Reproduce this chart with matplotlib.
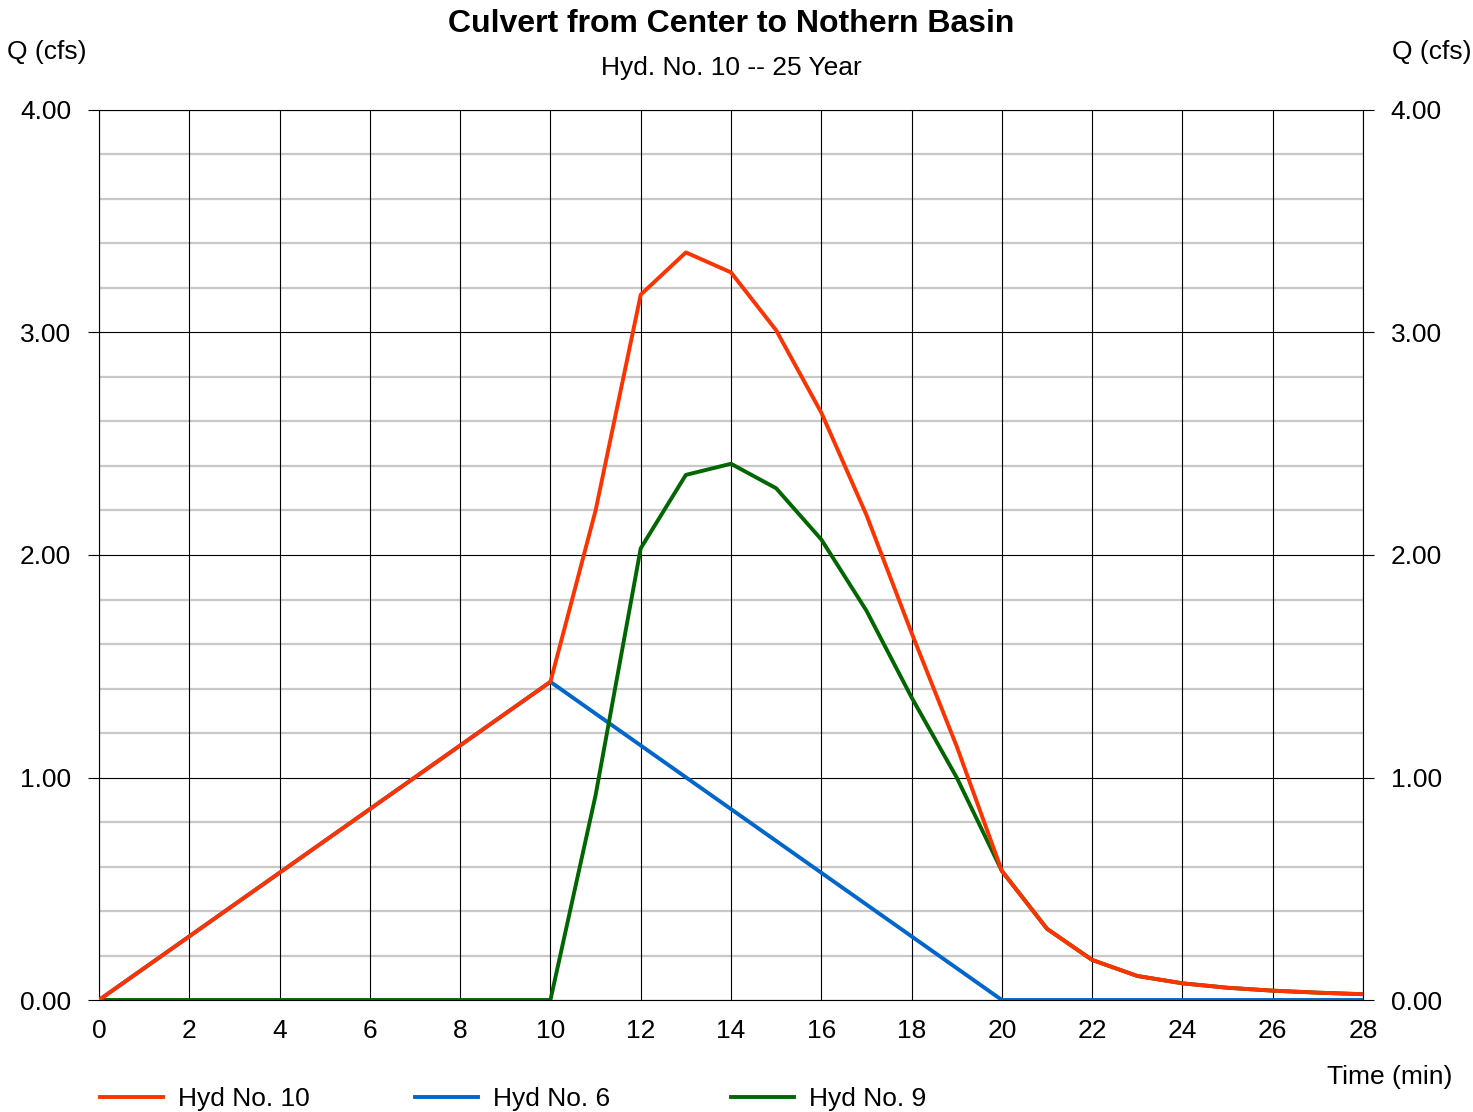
import matplotlib
matplotlib.use("Agg")
import matplotlib.pyplot as plt
from matplotlib.lines import Line2D
import numpy as np

plt.rcParams['font.family'] = ['Liberation Sans', 'DejaVu Sans']

# Time (min)
time = list(range(0, 29))

# Hydrograph ordinates (cfs)
hyd6 = [0.000, 0.143, 0.286, 0.429, 0.572, 0.715, 0.858, 1.001, 1.144, 1.287, 1.430,
        1.287, 1.144, 1.001, 0.858, 0.715, 0.572, 0.429, 0.286, 0.143, 0.000,
        0.00, 0.00, 0.00, 0.00, 0.00, 0.00, 0.00, 0.00]
hyd9 = [0.00, 0.00, 0.00, 0.00, 0.00, 0.00, 0.00, 0.00, 0.00, 0.00, 0.00,
        0.92, 2.03, 2.36, 2.41, 2.30, 2.07, 1.75, 1.36, 1.00, 0.58,
        0.32, 0.18, 0.108, 0.075, 0.055, 0.042, 0.033, 0.026]
hyd10 = [0.000, 0.143, 0.286, 0.429, 0.572, 0.715, 0.858, 1.001, 1.144, 1.287, 1.430,
         2.20, 3.17, 3.36, 3.27, 3.01, 2.64, 2.18, 1.65, 1.14, 0.58,
         0.32, 0.18, 0.108, 0.075, 0.055, 0.042, 0.033, 0.026]

series = [("Hyd No. 10", hyd10, "#FF3300"),
          ("Hyd No. 6", hyd6, "#0066CC"),
          ("Hyd No. 9", hyd9, "#006600")]

x_ticks = list(range(0, 29, 2))
y_major = [0.0, 1.0, 2.0, 3.0, 4.0]
y_labels = ["0.00", "1.00", "2.00", "3.00", "4.00"]

FS = 19

W, H = 1473, 1112
fig = plt.figure(figsize=(W / 100, H / 100), dpi=100)
ax = fig.add_axes([99 / W, 1 - 1000 / H, (1363 - 99) / W, (1000 - 110) / H])

ax.set_xlim(0, 28)
ax.set_ylim(0, 4)

# grid: grey minor horizontals, black majors
for yv in np.arange(0.2, 4.0, 0.2):
    if abs(yv - round(yv)) > 1e-6:
        ax.axhline(yv, color="#c8c8c8", lw=1.6, zorder=1)
for yv in y_major:
    ax.axhline(yv, color="black", lw=0.8, zorder=1.5)
for xv in x_ticks:
    ax.axvline(xv, color="black", lw=0.8, zorder=1.5)

# draw order: blue, green, red on top
ax.plot(time, hyd6, color="#0066CC", lw=2.8, zorder=3, solid_capstyle="butt")
ax.plot(time, hyd9, color="#006600", lw=2.8, zorder=4, solid_capstyle="butt")
ax.plot(time, hyd10, color="#FF3300", lw=2.8, zorder=5, solid_capstyle="butt")

for s in ax.spines.values():
    s.set_color("black")
    s.set_linewidth(0.8)

ax.set_xticks(x_ticks)
ax.set_xticklabels([str(v) for v in x_ticks], fontsize=FS)
ax.tick_params(axis="x", length=0, pad=14)
ax.set_yticks(y_major)
ax.set_yticklabels(y_labels, fontsize=FS)
ax.tick_params(axis="y", length=8, width=0.8, direction="out",
               left=True, right=True, labelleft=True, labelright=True, pad=12)

fig.text(731 / W, 1 - 24 / H, "Culvert from Center to Nothern Basin",
         ha="center", va="center", fontsize=23, fontweight="bold")
fig.text(731 / W, 1 - 68 / H, "Hyd. No. 10 -- 25 Year",
         ha="center", va="center", fontsize=FS)
fig.text(7 / W, 1 - 52 / H, "Q (cfs)", ha="left", va="center", fontsize=FS)
fig.text(1472 / W, 1 - 52 / H, "Q (cfs)", ha="right", va="center", fontsize=FS)
fig.text(1452 / W, 1 - 1077 / H, "Time (min)", ha="right", va="center", fontsize=FS)

# legend row
leg_x = [100, 415, 731]
for (name, _, color), x0 in zip(series, leg_x):
    fig.add_artist(Line2D([x0 / W, (x0 + 63) / W], [1 - 1097 / H, 1 - 1097 / H],
                          color=color, lw=2.8, transform=fig.transFigure))
    fig.text((x0 + 78) / W, 1 - 1099 / H, name, ha="left", va="center", fontsize=FS)

fig.savefig("out.png", dpi=100)
